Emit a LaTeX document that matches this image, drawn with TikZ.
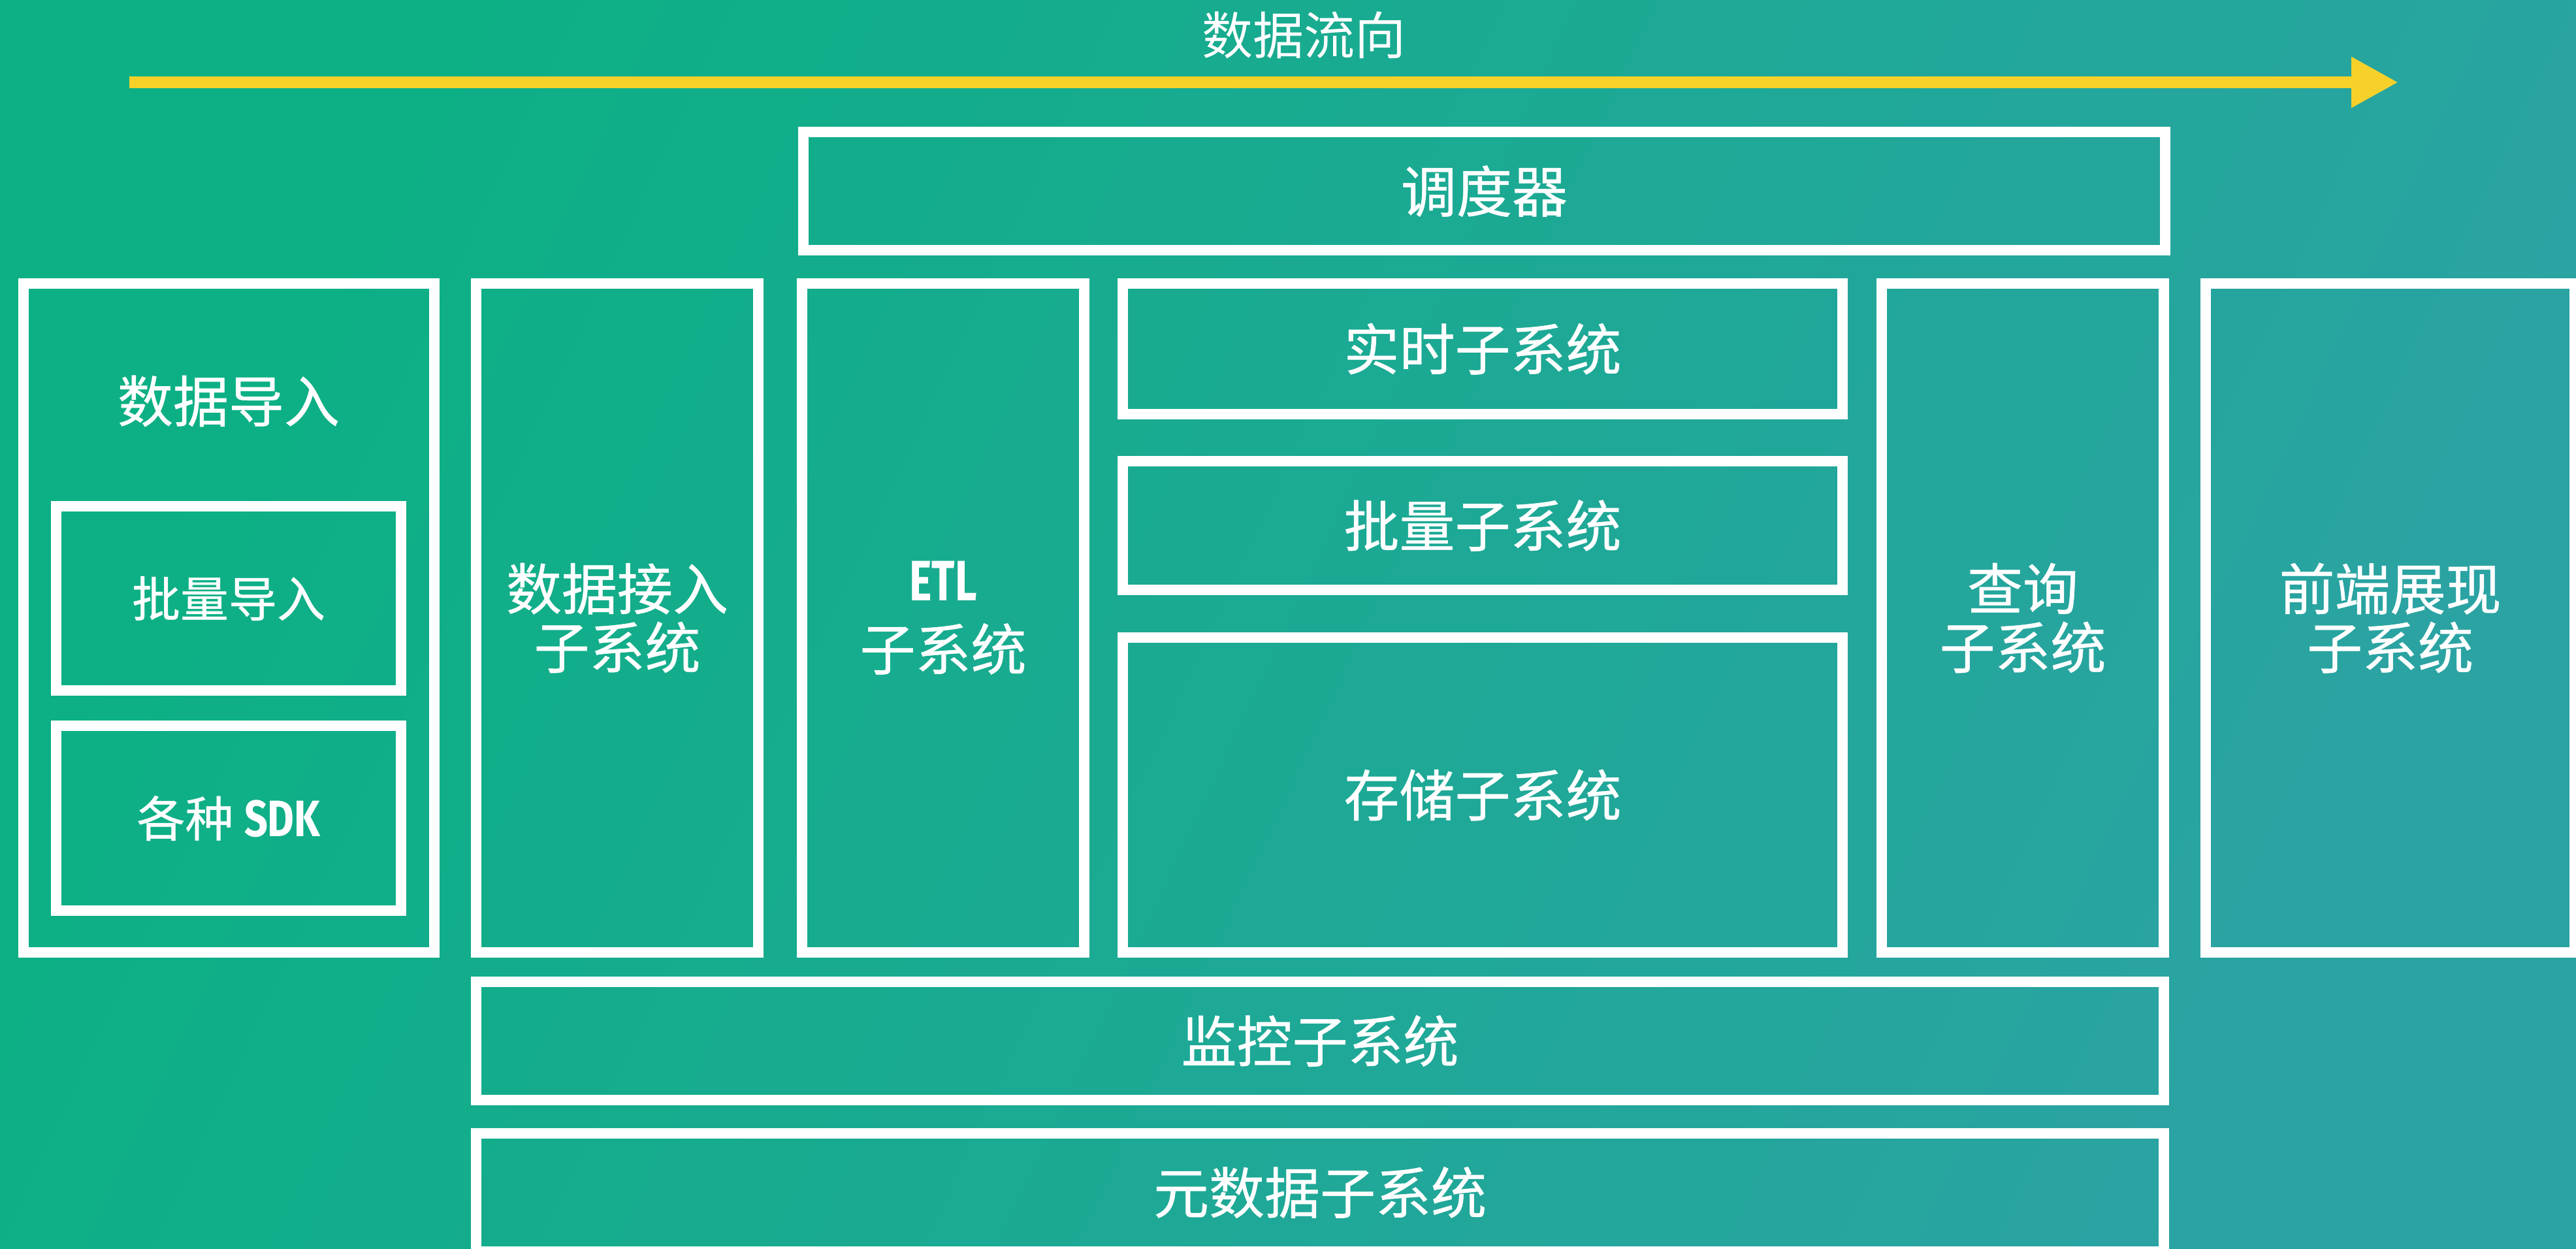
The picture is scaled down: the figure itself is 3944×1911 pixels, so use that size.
\documentclass[tikz,border=0pt]{standalone}
\usepackage{graphicx}
\usepackage{fontspec}
\setmainfont{Noto Sans CJK SC}
\newfontfamily\cjkm{Noto Sans CJK SC}[FakeBold=0.6]
\newfontfamily\latb{Fira Sans}
\usetikzlibrary{arrows.meta}
\definecolor{bgA}{HTML}{0CB084}
\definecolor{bgB}{HTML}{2BA3A3}
\definecolor{flow}{HTML}{F7D12A}
% name, x1, y1, x2, y2 (outer edges, px), text, extra style
\newcommand\mybox[7]{%
  \node[box, #7, minimum width={(#4-#2-16)*0.25pt}, minimum height={(#5-#3-16)*0.25pt}]
    (#1) at ({(#2+#4)/2},{(#3+#5)/2}) {#6};}
\begin{document}
\begin{tikzpicture}[x=0.25pt,y=-0.25pt,
  box/.style={draw=white, line width=4pt, inner sep=0pt, text=white, align=center,
    font=\cjkm\fontsize{21.25pt}{22.5pt}\selectfont},
  small/.style={font=\cjkm\fontsize{18.5pt}{20pt}\selectfont},
  lbl/.style={text=white, inner sep=0pt, font=\cjkm\fontsize{21.25pt}{22.5pt}\selectfont},
  flowarrow/.style={draw=flow, line width=4.5pt, -{Triangle[length=18pt 0 0, width=18.25pt 0 0]}}]
\useasboundingbox (0,0) rectangle (3944,1911);
\shade[left color=bgA, right color=bgB, shading angle=65] (0,0) rectangle (3944,1911);
% data flow arrow
\coordinate (fs) at (198,126);
\coordinate (fe) at (3672,126);
\draw[flowarrow] (fs) -- (fe);
\node[text=white, inner sep=0pt, font=\fontsize{19.5pt}{20pt}\selectfont] (title) at (1996,54) {数据流向};
% boxes
\mybox{sched}{1222}{194}{3323}{391}{调度器}{}
\mybox{imp}{28}{426}{673}{1466}{}{}
\node[lbl] (imptxt) at (350,614) {数据导入};
\mybox{bat}{78}{767}{622}{1065}{批量导入}{small}
\mybox{sdk}{78}{1103}{622}{1402}{各种 {\latb\bfseries\fontsize{19.6pt}{20pt}\selectfont\scalebox{0.8}[1]{SDK}}}{small}
\mybox{acc}{721}{426}{1169}{1466}{数据接入\\子系统}{}
\mybox{etl}{1220}{426}{1668}{1466}{{\latb\bfseries\fontsize{21.8pt}{22pt}\selectfont\scalebox{0.75}[1]{ETL}}\\[4pt]子系统}{}
\mybox{rt}{1711}{426}{2829}{642}{实时子系统}{}
\mybox{bs}{1711}{698}{2829}{911}{批量子系统}{}
\mybox{st}{1711}{968}{2829}{1466}{存储子系统}{}
\mybox{qry}{2873}{426}{3321}{1466}{查询\\子系统}{}
\mybox{fe}{3369}{426}{3950}{1466}{前端展现\\子系统}{}
\mybox{mon}{721}{1495}{3321}{1692}{监控子系统}{}
\mybox{meta}{721}{1727}{3321}{1924}{元数据子系统}{}
\end{tikzpicture}
\end{document}
